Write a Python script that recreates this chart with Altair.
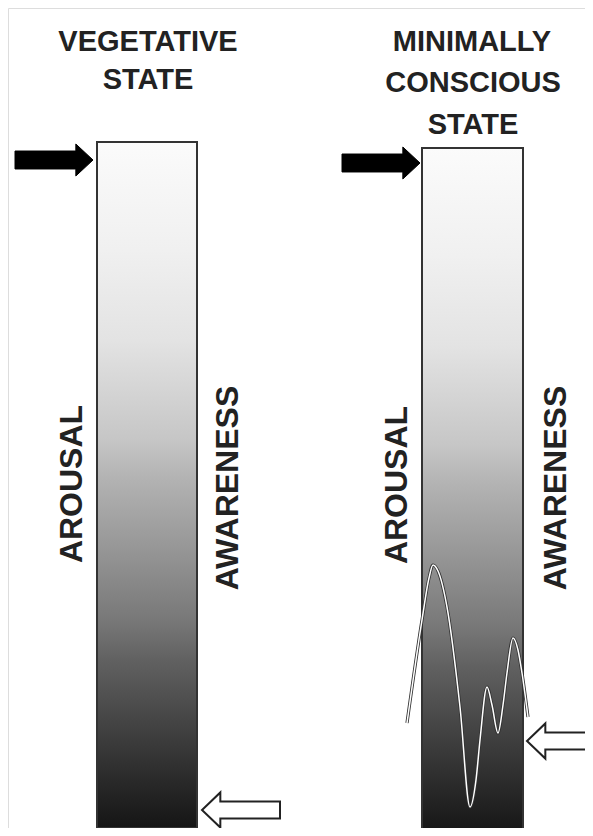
import altair as alt
import pandas as pd

# ---- data (diagram units: horizontal position / vertical level) ----
bar_state = ["VEGETATIVE STATE", "MINIMALLY CONSCIOUS STATE"]
bar_x0 = [97, 422]
bar_x1 = [197, 523]
bar_top = [142, 148]
bar_bottom = [828, 834]

# awareness fluctuation in the minimally conscious state
wave_x = [407, 422, 429, 433, 438, 447, 460, 470, 476, 480, 487, 492, 498, 503, 507, 513, 518, 522, 528]
wave_y = [723, 620, 578, 565, 571, 607, 707, 807, 780, 740, 687, 705, 733, 705, 673, 638, 650, 673, 717]

# arousal markers (black arrows) and awareness markers (white arrows)
arousal_x = [54, 381]
arousal_y = [160, 163]
awareness_x = [241, 566]
awareness_y = [810, 741]

title_lines = ["VEGETATIVE", "STATE", "MINIMALLY", "CONSCIOUS", "STATE"]
title_x = [148, 148, 472, 473, 473]
title_y = [42, 80, 42, 83, 125]

side_labels = ["AROUSAL", "AWARENESS", "AROUSAL", "AWARENESS"]
side_x = [72, 228, 397, 556]
side_y = [484, 488, 485, 488]

# ---- frame ----
W, H = 577, 820
xs = alt.Scale(domain=[8, 8 + W])
ys = alt.Scale(domain=[8, 8 + H], reverse=True)
X = lambda f: alt.X(f, type="quantitative", scale=xs, axis=None)
Y = lambda f: alt.Y(f, type="quantitative", scale=ys, axis=None)

bars_df = pd.DataFrame({"state": bar_state, "x0": bar_x0, "x1": bar_x1,
                        "top": bar_top, "bottom": bar_bottom})
wave_df = pd.DataFrame({"x": wave_x, "y": wave_y})
arousal_df = pd.DataFrame({"x": arousal_x, "y": arousal_y})
aware_df = pd.DataFrame({"x": awareness_x, "y": awareness_y})
title_df = pd.DataFrame({"t": title_lines, "x": title_x, "y": title_y})
side_df = pd.DataFrame({"t": side_labels, "x": side_x, "y": side_y})

grad = alt.Gradient(
    gradient="linear", x1=0, y1=0, x2=0, y2=1,
    stops=[
        alt.GradientStop(color="#fbfbfb", offset=0.0),
        alt.GradientStop(color="#f0f0f0", offset=0.157),
        alt.GradientStop(color="#e3e3e3", offset=0.289),
        alt.GradientStop(color="#c6c6c6", offset=0.434),
        alt.GradientStop(color="#b2b2b2", offset=0.493),
        alt.GradientStop(color="#9a9a9a", offset=0.58),
        alt.GradientStop(color="#787878", offset=0.697),
        alt.GradientStop(color="#616161", offset=0.755),
        alt.GradientStop(color="#454545", offset=0.843),
        alt.GradientStop(color="#2a2a2a", offset=0.93),
        alt.GradientStop(color="#151515", offset=1.0),
    ],
)

bars = alt.Chart(bars_df).mark_rect(fill=grad, stroke="#333333", strokeWidth=2).encode(
    x=X("x0"), x2="x1", y=Y("top"), y2="bottom"
)

wave_dark = alt.Chart(wave_df).mark_line(color="#333333", strokeWidth=3.2, interpolate="monotone").encode(
    x=X("x"), y=Y("y")
)
wave_white = alt.Chart(wave_df).mark_line(color="#ffffff", strokeWidth=1.5, interpolate="monotone").encode(
    x=X("x"), y=Y("y")
)

right_arrow = "M-1,-0.23L0.56,-0.23L0.56,-0.41L1,0L0.56,0.41L0.56,0.23L-1,0.23Z"
left_arrow = "M1,-0.22L-0.53,-0.22L-0.53,-0.45L-1,0L-0.53,0.45L-0.53,0.22L1,0.22Z"

black_arrows = alt.Chart(arousal_df).mark_point(
    shape=right_arrow, size=78 * 78, filled=True, fill="#000000", stroke="#000000",
    strokeWidth=1, opacity=1
).encode(x=X("x"), y=Y("y"))

white_arrows = alt.Chart(aware_df).mark_point(
    shape=left_arrow, size=78 * 78, filled=True, fill="#ffffff", stroke="#222222",
    strokeWidth=2, opacity=1
).encode(x=X("x"), y=Y("y"))

titles = alt.Chart(title_df).mark_text(
    font="Liberation Sans", fontWeight="bold", fontSize=29, color="#222222",
    align="center", baseline="middle"
).encode(x=X("x"), y=Y("y"), text="t:N")

sides = alt.Chart(side_df).mark_text(
    font="Liberation Sans", fontWeight="bold", fontSize=32, color="#222222",
    align="center", baseline="middle", angle=270
).encode(x=X("x"), y=Y("y"), text="t:N")

chart = alt.layer(bars, wave_dark, wave_white, black_arrows, white_arrows, titles, sides).properties(
    width=W, height=H, padding=0, autosize=alt.AutoSizeParams(type="none")
).configure_view(stroke=None).configure(background="#ffffff")

chart.save("out.html", embed_options={"renderer": "svg", "actions": False})
